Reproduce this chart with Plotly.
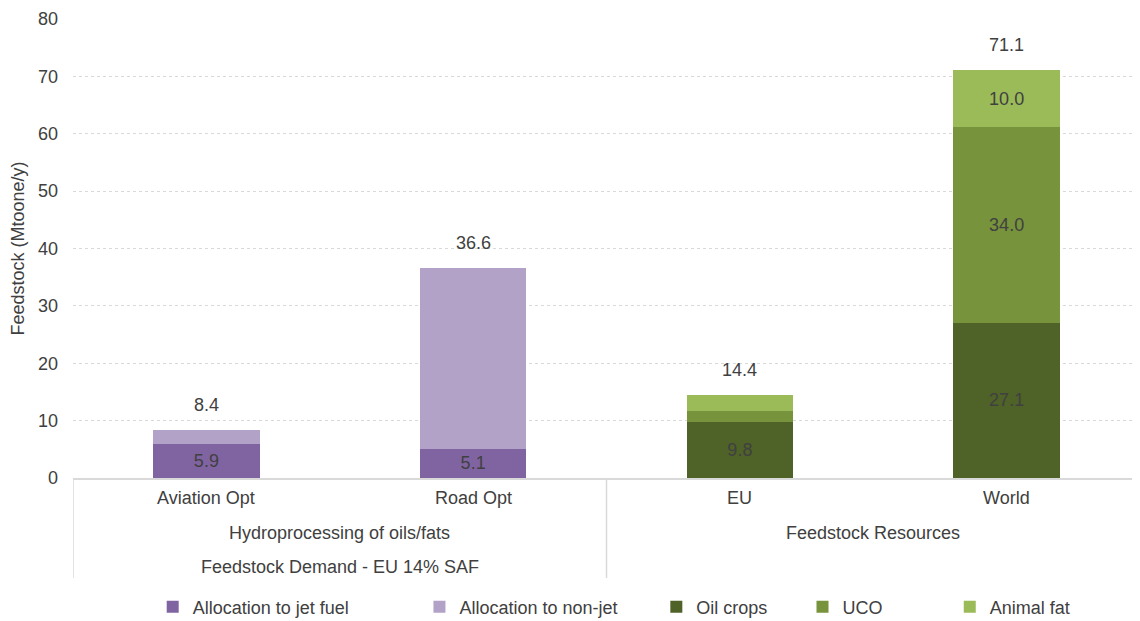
import plotly.graph_objects as go

categories = ["Aviation Opt", "Road Opt", "EU", "World"]
jet_fuel = [5.9, 5.1, None, None]
non_jet = [2.5, 31.5, None, None]
oil_crops = [None, None, 9.8, 27.1]
uco = [None, None, 1.9, 34.0]
animal_fat = [None, None, 2.7, 10.0]
totals = [8.4, 36.6, 14.4, 71.1]

jet_text = ["5.9", "5.1", "", ""]
oil_text = ["", "", "9.8", "27.1"]
uco_text = ["", "", "", "34.0"]
fat_text = ["", "", "", "10.0"]

groups = ["Hydroprocessing of oils/fats", "Feedstock Resources"]
group_pos = [0.5, 2.5]
top_group = "Feedstock Demand - EU 14% SAF"

y_ticks = [0, 10, 20, 30, 40, 50, 60, 70, 80]

FONT = "Liberation Sans, Arial, sans-serif"
TXT = "#404040"
FS = 18

# legend item left positions (paper fraction of plot width)
legend_x = [0.0747, 0.3247, 0.5467, 0.6837, 0.8217]

fig = go.Figure()

def add(i, name, vals, color, text=None):
    lg = "legend" if i == 0 else f"legend{i+1}"
    fig.add_trace(go.Bar(
        name=name, x=categories, y=vals, marker=dict(color=color, line=dict(width=0)),
        text=text, textposition="inside", insidetextanchor="middle",
        textfont=dict(family=FONT, size=FS, color=TXT), textangle=0,
        hoverinfo="name+y", legend=lg,
    ))

add(0, "Allocation to jet fuel", jet_fuel, "#8064a2", jet_text)
add(1, "Allocation to non-jet", non_jet, "#b2a2c7", None)
add(2, "Oil crops", oil_crops, "#4f6228", oil_text)
add(3, "UCO", uco, "#77933c", uco_text)
add(4, "Animal fat", animal_fat, "#9bbb59", fat_text)

annotations = []
for c, t in zip(categories, totals):
    annotations.append(dict(x=c, y=t, xref="x", yref="y", text=f"{t:.1f}", showarrow=False,
                            yshift=25, font=dict(family=FONT, size=FS, color=TXT)))
for c in categories:
    annotations.append(dict(x=c, y=-0.0436, xref="x", yref="paper", text=c, showarrow=False,
                            yanchor="middle", font=dict(family=FONT, size=FS, color=TXT)))
for g, p in zip(groups, group_pos):
    annotations.append(dict(x=p, y=-0.120, xref="x", yref="paper", text=g, showarrow=False,
                            yanchor="middle", font=dict(family=FONT, size=FS, color=TXT)))
annotations.append(dict(x=0.5, y=-0.194, xref="x", yref="paper", text=top_group, showarrow=False,
                        yanchor="middle", font=dict(family=FONT, size=FS, color=TXT)))

shapes = [
    dict(type="line", xref="x", yref="paper", x0=-0.5, x1=-0.5, y0=0, y1=-0.218,
         line=dict(color="#d9d9d9", width=1.5)),
    dict(type="line", xref="x", yref="paper", x0=1.5, x1=1.5, y0=0, y1=-0.218,
         line=dict(color="#d9d9d9", width=1.5)),
]

leg_common = dict(orientation="h", xanchor="left", y=-0.281, yanchor="middle",
                  font=dict(family=FONT, size=FS, color=TXT), itemwidth=30,
                  bgcolor="rgba(0,0,0,0)")
layout_legends = {}
for i, lx in enumerate(legend_x):
    key = "legend" if i == 0 else f"legend{i+1}"
    layout_legends[key] = dict(x=lx, **leg_common)

fig.update_layout(
    barmode="stack", bargap=0.6,
    width=1132, height=613,
    margin=dict(l=65, r=0, t=11, b=143, autoexpand=False),
    paper_bgcolor="white", plot_bgcolor="white",
    font=dict(family=FONT, size=FS, color=TXT),
    showlegend=True,
    annotations=annotations, shapes=shapes,
    **layout_legends,
)
fig.update_xaxes(showticklabels=False, showgrid=False, showline=True, linecolor="#d9d9d9",
                 linewidth=1.5, range=[-0.5, 3.5], ticks="", zeroline=False)
fig.update_yaxes(range=[0, 80], tickvals=y_ticks, showgrid=True, gridcolor="#d9d9d9",
                 griddash="dot", gridwidth=1, zeroline=False, showline=False,
                 title=dict(text="Feedstock (Mtoone/y)", font=dict(family=FONT, size=FS, color=TXT), standoff=12),
                 tickfont=dict(family=FONT, size=FS, color=TXT), ticks="", ticklabelstandoff=14)

fig.write_html("out.html")
